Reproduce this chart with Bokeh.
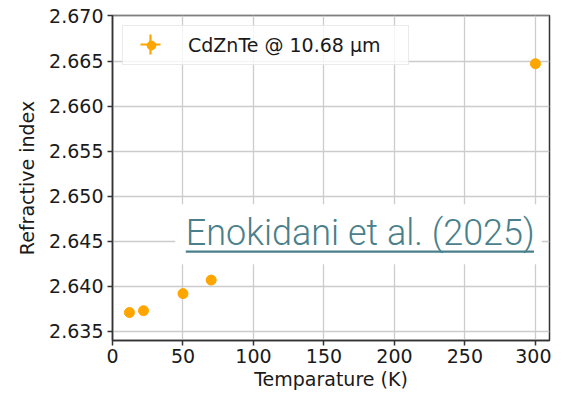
from bokeh.plotting import figure
from bokeh.models import (ColumnDataSource, FixedTicker, NumeralTickFormatter, Legend,
                          LegendItem, BoxAnnotation, Label, Range1d)
from bokeh.embed import file_html
from bokeh.resources import INLINE

# ---- data ----
temperature_K = [12, 22, 50, 70, 300]
refractive_index = [2.6371, 2.6373, 2.6392, 2.6407, 2.6647]
x_ticks = [0, 50, 100, 150, 200, 250, 300]
y_ticks = [2.635, 2.640, 2.645, 2.650, 2.655, 2.660, 2.665, 2.670]
series_label = "CdZnTe @ 10.68 \u03bcm"
note_text = "Enokidani et al. (2025)"

ORANGE = "#FFA500"
TEAL = "#4a7f8b"
FONT = "DejaVu Sans"

W, H = 551, 396
B_LEFT, B_RIGHT, B_TOP, B_BOTTOM = 112, 2, 15, 56

src = ColumnDataSource(data=dict(t=temperature_K, n=refractive_index))

p = figure(width=W, height=H, output_backend="svg", toolbar_location=None,
           x_range=Range1d(0, 310), y_range=Range1d(2.634, 2.67005),
           min_border_left=B_LEFT, min_border_right=B_RIGHT, min_border_top=B_TOP,
           min_border_bottom=B_BOTTOM)

p.background_fill_color = "white"
p.border_fill_color = "white"
p.outline_line_color = "#333333"
p.outline_line_width = 1.5
p.outline_line_alpha = 1.0

# axes
p.xaxis.ticker = FixedTicker(ticks=x_ticks)
p.yaxis.ticker = FixedTicker(ticks=y_ticks)
p.yaxis.formatter = NumeralTickFormatter(format="0.000")
p.xaxis.axis_label = "Temparature (K)"
p.yaxis.axis_label = "Refractive index"
for ax in (p.xaxis, p.yaxis):
    ax.axis_label_text_font = FONT
    ax.axis_label_text_font_size = "19px"
    ax.axis_label_text_font_style = "normal"
    ax.axis_label_text_color = "#1a1a1a"
    ax.major_label_text_font = FONT
    ax.major_label_text_font_size = "19px"
    ax.major_label_text_color = "#1a1a1a"
    ax.axis_line_color = "#333333"
    ax.axis_line_width = 1.5
    ax.major_tick_line_color = "#333333"
    ax.major_tick_line_width = 1.5
    ax.major_tick_out = 5
    ax.major_tick_in = 0
    ax.minor_tick_line_color = None
p.xaxis.major_label_standoff = 3
p.xaxis.axis_label_standoff = 2
p.yaxis.major_label_standoff = 4
p.yaxis.axis_label_standoff = 8

# grid
p.xgrid.ticker = FixedTicker(ticks=x_ticks)
p.ygrid.ticker = FixedTicker(ticks=y_ticks)
for g in (p.xgrid, p.ygrid):
    g.grid_line_color = "#cccccc"
    g.grid_line_width = 1.3

# error-bar crosses (tiny) and points
cross_r = p.scatter("t", "n", source=src, marker="cross", size=1,
                    line_color=ORANGE, line_width=2.2)
dot_r = p.scatter("t", "n", source=src, marker="circle", size=10,
                  fill_color=ORANGE, line_color=ORANGE)

# legend with label and dot
leg = Legend(items=[LegendItem(label=series_label, renderers=[dot_r])],
             location="top_left", margin=10, padding=8,
             glyph_width=40, glyph_height=22, label_standoff=17,
             label_text_font=FONT, label_text_font_size="19px",
             label_text_color="#1a1a1a", label_height=22, label_width=212,
             border_line_color="#d5d5d5", border_line_width=1,
             background_fill_color="white", background_fill_alpha=0.8)
p.add_layout(leg)

# second, transparent legend that draws the larger error-bar cross
frame_h = H - B_TOP - B_BOTTOM
leg2 = Legend(items=[LegendItem(label=" ", renderers=[cross_r])],
              location=(13, frame_h - 29 - 25), margin=0, padding=0,
              glyph_width=50, glyph_height=50, label_standoff=0,
              label_text_font_size="1px", label_height=1, label_width=1,
              border_line_alpha=0, background_fill_alpha=0)
p.add_layout(leg2)

# citation overlay
p.add_layout(BoxAnnotation(left=44.5, right=304.5, bottom=2.64246, top=2.64911,
                           fill_color="white", fill_alpha=1.0, line_alpha=0,
                           level="annotation"))
p.add_layout(Label(x=52, y=2.64589, text=note_text, text_font="Roboto Light",
                   text_font_size="36px", text_color=TEAL, text_align="left",
                   text_baseline="middle"))
p.add_layout(BoxAnnotation(left=52, right=299, bottom=2.64373, top=2.64399,
                           fill_color=TEAL, fill_alpha=1.0, line_alpha=0))

open("out.html", "w").write(file_html(p, INLINE))
